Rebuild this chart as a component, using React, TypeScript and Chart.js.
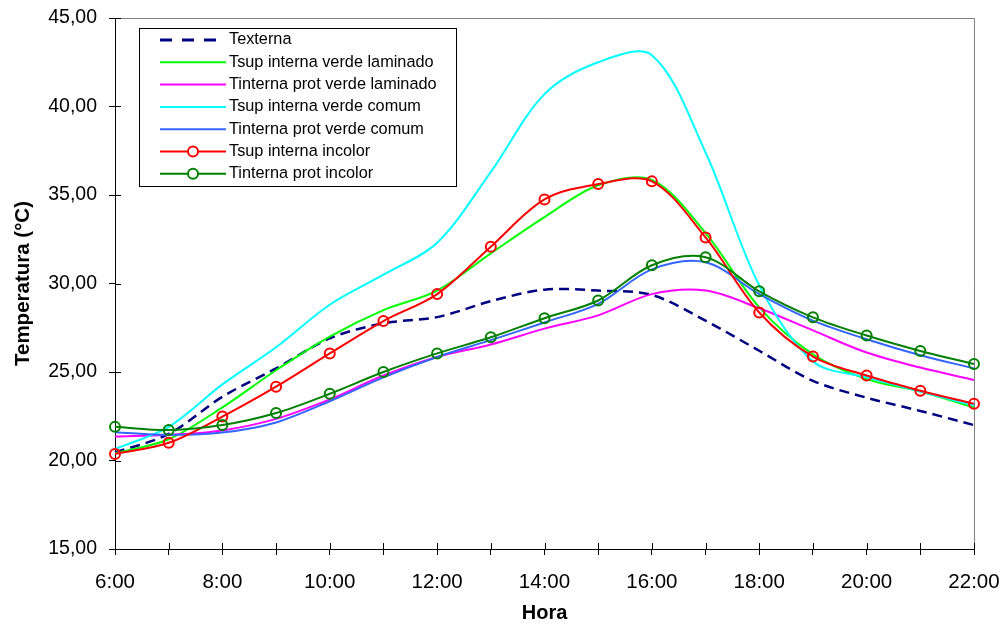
import React, { useEffect, useRef } from 'react';
import { Chart, registerables } from 'chart.js';

Chart.register(...registerables);

const hours = ['6:00', '7:00', '8:00', '9:00', '10:00', '11:00', '12:00', '13:00', '14:00', '15:00', '16:00', '17:00', '18:00', '19:00', '20:00', '21:00', '22:00'];

const texterna = [20.45, 21.5, 23.6, 25.2, 26.9, 27.75, 28.1, 29.0, 29.65, 29.6, 29.35, 27.9, 26.2, 24.5, 23.55, 22.8, 22.0];
const tsupVerdeLaminado = [20.4, 21.2, 23.0, 25.1, 27.0, 28.5, 29.6, 31.7, 33.75, 35.55, 35.85, 32.85, 28.65, 26.0, 24.6, 23.9, 23.0];
const tinternaVerdeLaminado = [21.35, 21.45, 21.7, 22.35, 23.45, 24.8, 25.85, 26.55, 27.45, 28.2, 29.4, 29.6, 28.6, 27.35, 26.1, 25.25, 24.55];
const tsupVerdeComum = [20.65, 21.9, 24.3, 26.4, 28.8, 30.5, 32.3, 36.3, 40.7, 42.5, 42.9, 37.4, 29.9, 25.6, 24.7, 23.9, 23.1];
const tinternaVerdeComum = [21.6, 21.45, 21.58, 22.15, 23.35, 24.7, 25.85, 26.8, 27.8, 28.85, 30.8, 31.2, 29.4, 27.9, 26.85, 25.95, 25.2];
const tsupIncolor = [20.37, 21.0, 22.48, 24.17, 26.05, 27.88, 29.4, 32.08, 34.75, 35.62, 35.77, 32.6, 28.36, 25.87, 24.8, 23.94, 23.2];
const tinternaIncolor = [21.9, 21.72, 22.0, 22.68, 23.77, 25.0, 26.05, 26.96, 28.04, 29.04, 31.03, 31.48, 29.56, 28.09, 27.06, 26.19, 25.45];

const seriesLabels = [
  'Texterna',
  'Tsup interna verde laminado',
  'Tinterna prot verde laminado',
  'Tsup interna verde comum',
  'Tinterna prot verde comum',
  'Tsup interna incolor',
  'Tinterna prot incolor',
];
const seriesData = [texterna, tsupVerdeLaminado, tinternaVerdeLaminado, tsupVerdeComum, tinternaVerdeComum, tsupIncolor, tinternaIncolor];
const seriesColors = ['#000080', '#00FF00', '#FF00FF', '#00FFFF', '#3366FF', '#FF0000', '#008000'];
const seriesMarkers = [false, false, false, false, false, true, true];
const seriesDashed = [true, false, false, false, false, false, false];

const yTicks = [15, 20, 25, 30, 35, 40, 45];

const FONT = "'Liberation Sans', Arial, sans-serif";

export default function App() {
  const ref = useRef<HTMLCanvasElement>(null);

  useEffect(() => {
    if (!ref.current) return;

    const framePlugin = {
      id: 'frame',
      beforeDatasetsDraw(chart: any) {
        const { ctx, chartArea } = chart;
        const { left, right, top, bottom } = chartArea;
        ctx.save();
        ctx.lineWidth = 1;
        ctx.strokeStyle = '#808080';
        ctx.beginPath();
        ctx.moveTo(left, Math.round(top) + 0.5);
        ctx.lineTo(Math.round(right) + 0.5, Math.round(top) + 0.5);
        ctx.lineTo(Math.round(right) + 0.5, bottom);
        ctx.stroke();
        // inner halves of tick marks
        ctx.strokeStyle = '#000';
        const ys = chart.scales.y;
        yTicks.forEach((v) => {
          const py = Math.round(ys.getPixelForValue(v)) + 0.5;
          ctx.beginPath();
          ctx.moveTo(left, py);
          ctx.lineTo(left + 6, py);
          ctx.stroke();
        });
        const xs = chart.scales.x;
        hours.forEach((_, i) => {
          const px = Math.round(xs.getPixelForValue(i)) + 0.5;
          ctx.beginPath();
          ctx.moveTo(px, bottom);
          ctx.lineTo(px, bottom - 6);
          ctx.stroke();
        });
        ctx.restore();
      },
    };

    const legendPlugin = {
      id: 'boxLegend',
      afterDatasetsDraw(chart: any) {
        const { ctx } = chart;
        ctx.save();
        const bx = 139.5, by = 28.5, bw = 317, bh = 158;
        ctx.fillStyle = '#fff';
        ctx.fillRect(bx, by, bw, bh);
        ctx.strokeStyle = '#000';
        ctx.lineWidth = 1;
        ctx.strokeRect(bx, by, bw, bh);
        ctx.font = `16.3px ${FONT}`;
        ctx.textBaseline = 'middle';
        ctx.textAlign = 'left';
        chart.data.datasets.forEach((ds: any, i: number) => {
          const y = 40 + i * 22.3;
          ctx.strokeStyle = ds.borderColor;
          ctx.lineWidth = seriesDashed[i] ? 3 : 2;
          ctx.setLineDash(seriesDashed[i] ? [12, 10] : []);
          ctx.beginPath();
          ctx.moveTo(160, y);
          ctx.lineTo(226, y);
          ctx.stroke();
          ctx.setLineDash([]);
          if (seriesMarkers[i]) {
            ctx.fillStyle = '#fff';
            ctx.beginPath();
            ctx.arc(193, y, 5, 0, Math.PI * 2);
            ctx.fill();
            ctx.stroke();
          }
          ctx.fillStyle = '#000';
          ctx.fillText(ds.label, 229, y);
        });
        ctx.restore();
      },
    };

    const datasets = seriesLabels.map((label, i) => ({
      label,
      data: seriesData[i],
      borderColor: seriesColors[i],
      backgroundColor: 'rgba(0,0,0,0)',
      borderWidth: seriesDashed[i] ? 2.5 : 2,
      borderDash: seriesDashed[i] ? [10, 6] : [],
      pointRadius: seriesMarkers[i] ? 5 : 0,
      pointBorderWidth: 2,
      pointBorderColor: seriesColors[i],
      pointBackgroundColor: 'rgba(0,0,0,0)',
      tension: 0.33,
      fill: false,
      clip: false as any,
      order: seriesLabels.length - i,
    }));

    const chart = new Chart(ref.current, {
      type: 'line',
      data: { labels: hours, datasets },
      options: {
        animation: false,
        responsive: false,
        maintainAspectRatio: false,
        events: [],
        layout: { padding: { top: 18, right: 66, bottom: 0, left: 0 } },
        plugins: { legend: { display: false }, tooltip: { enabled: false } },
        scales: {
          x: {
            type: 'category',
            offset: false,
            afterFit: (s: any) => { s.height = 78; s.paddingLeft = 0; s.paddingRight = 0; },
            grid: { display: true, drawOnChartArea: false, drawTicks: true, tickLength: 6, color: '#000' },
            border: { display: true, color: '#000', width: 1 },
            ticks: {
              autoSkip: false,
              maxRotation: 0,
              minRotation: 0,
              padding: 15,
              color: '#000',
              font: { family: FONT, size: 20.5 },
              callback: (_v: any, idx: number) => (idx % 2 === 0 ? hours[idx] : ''),
            },
            title: {
              display: true,
              text: 'Hora',
              color: '#000',
              font: { family: FONT, size: 20, weight: 'bold' },
              padding: { top: 0, bottom: 2 },
            },
          },
          y: {
            min: 15,
            max: 45,
            afterFit: (s: any) => { s.width = 115; s.paddingTop = 0; s.paddingBottom = 0; },
            grid: { display: true, drawOnChartArea: false, drawTicks: true, tickLength: 6, color: '#000' },
            border: { display: true, color: '#000', width: 1 },
            ticks: {
              stepSize: 5,
              padding: 12,
              color: '#000',
              font: { family: FONT, size: 19.5 },
              callback: (v: any) => Number(v).toFixed(2).replace('.', ','),
            },
            title: {
              display: true,
              text: 'Temperatura (°C)',
              color: '#000',
              font: { family: FONT, size: 20.5, weight: 'bold' },
              padding: { top: 11, bottom: 0 },
            },
          },
        },
      },
      plugins: [framePlugin, legendPlugin],
    });

    return () => chart.destroy();
  }, []);

  return (
    <div style={{ position: 'absolute', left: 0, top: 0, width: 1002, height: 627, overflow: 'hidden', background: '#fff' }}>
      <canvas ref={ref} width={1040} height={627} style={{ width: 1040, height: 627, display: 'block' }} />
    </div>
  );
}
